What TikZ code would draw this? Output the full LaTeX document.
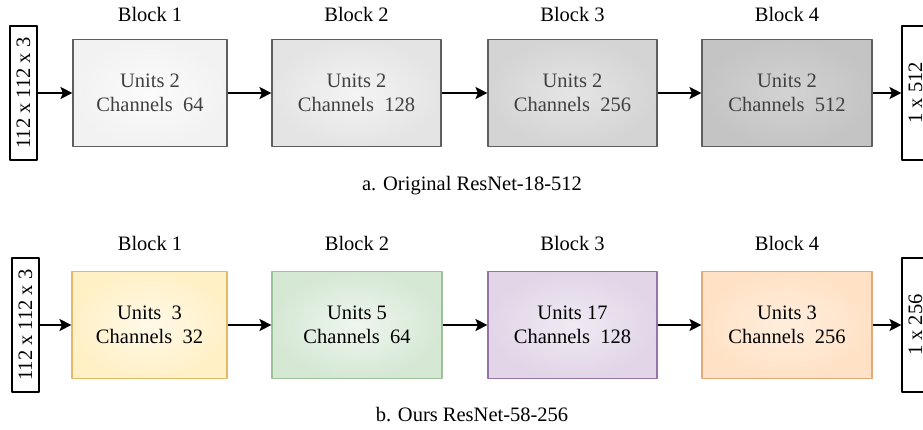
\documentclass[tikz,border=0pt]{standalone}
\usepackage{fontspec}
\setmainfont{Liberation Serif}
\usetikzlibrary{arrows.meta}
\definecolor{grayA}{HTML}{F2F2F2}
\definecolor{grayB}{HTML}{E4E4E4}
\definecolor{grayC}{HTML}{D4D4D4}
\definecolor{grayD}{HTML}{C4C4C4}
\definecolor{grayline}{HTML}{5E5E5E}
\definecolor{yelfill}{HTML}{FFF0C6}
\definecolor{yelline}{HTML}{E0BA6A}
\definecolor{grnfill}{HTML}{D5E8D4}
\definecolor{grnline}{HTML}{9CC29A}
\definecolor{purfill}{HTML}{E1D5E7}
\definecolor{purline}{HTML}{9673A6}
\definecolor{orafill}{HTML}{FFE2C6}
\definecolor{oraline}{HTML}{E8A878}
\begin{document}
\begin{tikzpicture}[x=1pt, y=-1pt, font=\fontsize{20.5}{24.5}\selectfont, line join=round, >={Stealth[length=12pt,width=12pt,inset=2.5pt]},
	blk/.style={draw, line width=1.1pt, inner sep=0pt, align=center, minimum height=107pt},
	dimbox/.style={draw, line width=1.1pt, rotate=90, inner sep=0pt, minimum width=134pt, minimum height=27pt},
	conn/.style={->, line width=1.4pt}]
	\useasboundingbox (0,0) rectangle (923,430);
	% a. original network
	\node[dimbox] (inA) at (23.5,93) {112 x 112 x 3};
	\node[blk, minimum width=154pt, draw=grayline, inner color=grayA!30!white, outer color=grayA, text=black!75] (a1) at (150,93) {Units 2\\Channels~~64};
	\node[blk, minimum width=169pt, draw=grayline, inner color=grayB!40!white, outer color=grayB, text=black!75] (a2) at (356.5,93) {Units 2\\Channels~~128};
	\node[blk, minimum width=169pt, draw=grayline, inner color=grayC!60!white, outer color=grayC, text=black!75] (a3) at (572.5,93) {Units 2\\Channels~~256};
	\node[blk, minimum width=170pt, draw=grayline, inner color=grayD!75!white, outer color=grayD, text=black!75] (a4) at (787,93) {Units 2\\Channels~~512};
	\node[dimbox] (outA) at (915.5,93) {1 x 512};
	\node (la1) at (150,14) {Block 1};
	\node (la2) at (356.5,14) {Block 2};
	\node (la3) at (572.5,14) {Block 3};
	\node (la4) at (787,14) {Block 4};
	\draw[conn] (inA) -- (a1);
	\draw[conn] (a1) -- (a2);
	\draw[conn] (a2) -- (a3);
	\draw[conn] (a3) -- (a4);
	\draw[conn] (a4) -- (outA);
	\node (capA) at (472,186) {a. Original ResNet-18-512};
	% b. our network
	\node[dimbox] (inB) at (25.5,325) {112 x 112 x 3};
	\node[blk, minimum width=155pt, draw=yelline, inner color=yelfill!40!white, outer color=yelfill] (b1) at (149.5,325) {Units~~3\\Channels~~32};
	\node[blk, minimum width=170pt, draw=grnline, inner color=grnfill!40!white, outer color=grnfill] (b2) at (357,325) {Units 5\\Channels~~64};
	\node[blk, minimum width=169pt, draw=purline, inner color=purfill!50!white, outer color=purfill] (b3) at (572.5,325) {Units 17\\Channels~~128};
	\node[blk, minimum width=170pt, draw=oraline, inner color=orafill!60!white, outer color=orafill] (b4) at (787,325) {Units 3\\Channels~~256};
	\node[dimbox] (outB) at (915.5,325) {1 x 256};
	\node (lb1) at (150,243) {Block 1};
	\node (lb2) at (357,243) {Block 2};
	\node (lb3) at (572.5,243) {Block 3};
	\node (lb4) at (787,243) {Block 4};
	\draw[conn] (inB) -- (b1);
	\draw[conn] (b1) -- (b2);
	\draw[conn] (b2) -- (b3);
	\draw[conn] (b3) -- (b4);
	\draw[conn] (b4) -- (outB);
	\node (capB) at (472,415) {b. Ours ResNet-58-256};
\end{tikzpicture}
\end{document}
